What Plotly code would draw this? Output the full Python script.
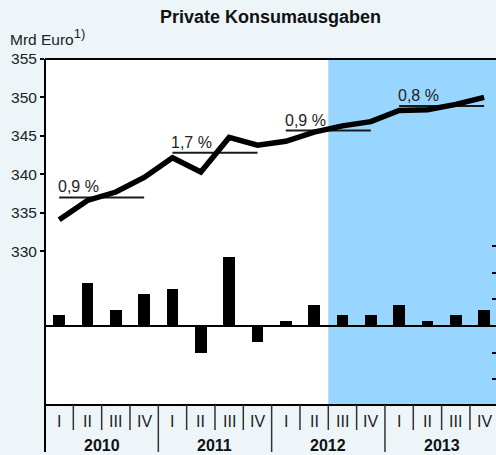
import plotly.graph_objects as go

# ---- data ----
quarters = ["I", "II", "III", "IV"] * 4
years = ["2010", "2011", "2012", "2013"]
consumption = [334.1, 336.6, 337.7, 339.6,
               342.15, 340.3, 344.8, 343.8,
               344.3, 345.5, 346.3, 346.85,
               348.3, 348.4, 349.1, 350.0]
qoq_change = [0.2, 0.8, 0.3, 0.6,
              0.7, -0.5, 1.3, -0.3,
              0.1, 0.4, 0.2, 0.2,
              0.4, 0.1, 0.2, 0.3]
annual_avg = [337.0, 342.8, 345.7, 348.9]
annual_growth = ["0,9 %", "1,7 %", "0,9 %", "0,8 %"]
left_ticks = [330, 335, 340, 345, 350, 355]
right_ticks = [-1.0, -0.5, 0.5, 1.0, 1.5]
forecast_start = 10  # index of first shaded quarter (2012 III)

W, H = 496, 455
L, T, B = 45, 59, 50
plot_h = H - T - B
FONT = "Liberation Sans"
BG = "#EDF5F9"
BLUE = "#99D6FF"


def py(y_px):
    """pixel y (from top) -> paper y"""
    return (H - B - y_px) / plot_h


x_idx = list(range(len(quarters)))

fig = go.Figure()

# annual average lines
for k in range(4):
    xs = [4 * k, 4 * k + 3]
    fig.add_trace(go.Scatter(x=xs, y=[annual_avg[k]] * 2, mode="lines",
                             line=dict(color="#1a1a1a", width=2),
                             hoverinfo="skip", showlegend=False, yaxis="y"))

# main line
fig.add_trace(go.Scatter(x=x_idx, y=consumption, mode="lines",
                         line=dict(color="black", width=5.5),
                         showlegend=False, yaxis="y"))

# bars
fig.add_trace(go.Bar(x=x_idx, y=qoq_change, width=0.42,
                     marker=dict(color="black", line=dict(width=0)),
                     showlegend=False, yaxis="y2"))

shapes = []
# forecast shading
shapes.append(dict(type="rect", xref="x", yref="paper", x0=forecast_start - 0.5,
                   x1=16, y0=0, y1=1, fillcolor=BLUE, line=dict(width=0),
                   layer="below"))
# zero line for bars
shapes.append(dict(type="line", xref="paper", yref="y2", x0=0, x1=1, y0=0, y1=0,
                   line=dict(color="black", width=2)))
# frame lines
shapes.append(dict(type="line", xref="paper", yref="paper", x0=0, x1=1, y0=1, y1=1,
                   line=dict(color="black", width=2)))
shapes.append(dict(type="line", xref="paper", yref="paper", x0=0, x1=1, y0=0, y1=0,
                   line=dict(color="black", width=2)))
shapes.append(dict(type="line", xref="paper", yref="paper", x0=0, x1=0, y0=py(452), y1=1,
                   line=dict(color="black", width=2)))
# category dividers
for i in range(1, len(quarters)):
    is_year = i % 4 == 0
    shapes.append(dict(type="line", xref="x", yref="paper", x0=i - 0.5, x1=i - 0.5,
                       y0=py(452) if is_year else py(430), y1=0,
                       line=dict(color="#333333", width=1.5)))

annotations = []
for i, q in enumerate(quarters):
    annotations.append(dict(x=i, y=py(421), xref="x", yref="paper", text=q,
                            showarrow=False, yanchor="middle",
                            font=dict(family=FONT, size=16, color="#222")))
for k, yr in enumerate(years):
    annotations.append(dict(x=4 * k + 1.5, y=py(445), xref="x", yref="paper",
                            text="<b>" + yr + "</b>", showarrow=False, yanchor="middle",
                            font=dict(family=FONT, size=16, color="#111")))
for k, g in enumerate(annual_growth):
    annotations.append(dict(x=4 * k, y=annual_avg[k], xref="x", yref="y", text=g,
                            showarrow=False, xanchor="left", yanchor="bottom",
                            xshift=-3, yshift=0,
                            font=dict(family=FONT, size=16, color="#222")))
annotations.append(dict(x=0.5, y=py(17), xref="paper", yref="paper",
                        text="<b>Private Konsumausgaben</b>", showarrow=False,
                        yanchor="middle", font=dict(family=FONT, size=18, color="#111")))
annotations.append(dict(x=-L / (W - L) + 8 / (W - L), y=py(37), xref="paper", yref="paper",
                        text="Mrd Euro<sup><span style='font-size:13px'>1)</span></sup>",
                        showarrow=False, xanchor="left",
                        yanchor="middle", font=dict(family=FONT, size=15.5, color="#222")))

fig.update_layout(
    width=W, height=H,
    margin=dict(l=L, r=0, t=T, b=B, pad=0),
    paper_bgcolor=BG, plot_bgcolor="white",
    font=dict(family=FONT, size=15.5, color="#222"),
    showlegend=False, bargap=0,
    xaxis=dict(range=[-0.5, -0.5 + (W - L) / 28.33], showgrid=False, zeroline=False,
               showticklabels=False, ticks="", showline=False, fixedrange=True),
    yaxis=dict(range=[310, 355], tickvals=left_ticks, ticks="outside", ticklen=4,
               tickwidth=1.5, tickcolor="black", showgrid=False, zeroline=False,
               showline=False, tickfont=dict(family=FONT, size=15.5, color="#222")),
    yaxis2=dict(range=[-1.48, 5.0], overlaying="y", side="right", tickvals=right_ticks,
                ticks="inside", ticklen=4, tickwidth=1.5, tickcolor="black",
                showticklabels=False, showgrid=False, zeroline=False, showline=False),
    shapes=shapes, annotations=annotations,
)

fig.write_html("out.html", config={"displayModeBar": False},
               post_script="document.body.style.margin='0';document.body.style.overflow='hidden';")
